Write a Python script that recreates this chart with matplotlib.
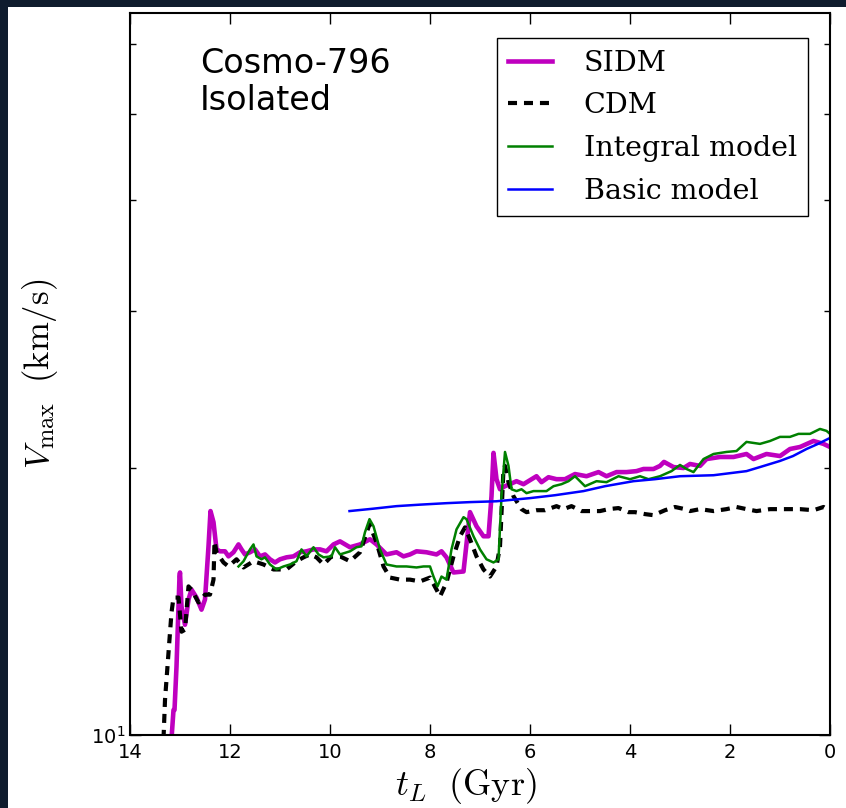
import numpy as np
import matplotlib
matplotlib.use("Agg")
import matplotlib.pyplot as plt
from matplotlib.patches import Rectangle
from matplotlib.ticker import NullFormatter, FixedLocator

plt.rcParams['lines.scale_dashes'] = False

# lookback time (Gyr) and Vmax (km/s)
t_sidm = [13.17, 13.13, 13.11, 13.07, 13.01, 13.00, 12.97, 12.90, 12.83, 12.77,
          12.67, 12.57, 12.50, 12.43, 12.39, 12.33, 12.27, 12.20, 12.10, 12.03,
          11.93, 11.83, 11.77, 11.70, 11.60, 11.50, 11.40, 11.30, 11.20, 11.10,
          11.00, 10.87, 10.73, 10.60, 10.47, 10.33, 10.20, 10.07, 9.93, 9.80,
          9.60, 9.40, 9.20, 9.07, 8.87, 8.67, 8.53, 8.40, 8.27, 8.07,
          7.87, 7.77, 7.67, 7.53, 7.33, 7.26, 7.20, 7.07, 6.93, 6.83,
          6.77, 6.73, 6.67, 6.60, 6.50, 6.40, 6.27, 6.13, 6.00, 5.87,
          5.77, 5.63, 5.47, 5.30, 5.10, 4.87, 4.63, 4.47, 4.27, 4.07,
          3.87, 3.73, 3.53, 3.40, 3.32, 3.13, 2.93, 2.80, 2.60, 2.47,
          2.20, 1.93, 1.67, 1.53, 1.27, 1.00, 0.80, 0.60, 0.33, 0.13, 0.00]
v_sidm = [9.9, 10.67, 10.67, 11.94, 15.08, 15.24, 13.95, 13.31, 14.21, 14.58,
          14.28, 13.84, 14.21, 16.31, 17.87, 17.36, 16.18, 16.10, 16.10, 15.89,
          16.06, 16.39, 16.18, 15.97, 16.06, 16.18, 15.89, 15.97, 15.77, 15.64,
          15.77, 15.85, 15.89, 16.06, 16.10, 16.18, 16.18, 16.10, 16.39, 16.52,
          16.27, 16.39, 16.61, 16.39, 15.97, 16.06, 15.89, 15.97, 16.10, 16.06,
          15.97, 16.10, 15.85, 15.24, 15.28, 16.61, 17.82, 17.18, 16.74, 16.74,
          18.57, 20.78, 19.41, 18.91, 19.06, 19.16, 19.31, 19.16, 19.36, 19.56,
          19.26, 19.51, 19.41, 19.41, 19.67, 19.56, 19.77, 19.56, 19.77, 19.77,
          19.82, 19.93, 19.93, 20.09, 20.30, 20.03, 19.98, 20.19, 20.09, 20.45,
          20.56, 20.56, 20.72, 20.45, 20.72, 20.61, 20.99, 21.10, 21.43, 21.27, 21.10]

t_cdm = [13.33, 13.30, 13.23, 13.17, 13.13, 13.03, 12.97, 12.90, 12.83, 12.77,
         12.63, 12.50, 12.40, 12.33, 12.31, 12.27, 12.13, 12.03, 11.87, 11.73,
         11.53, 11.33, 11.13, 10.87, 10.67, 10.53, 10.40, 10.27, 10.13, 9.97,
         9.80, 9.60, 9.40, 9.21, 9.07, 8.93, 8.80, 8.60, 8.40, 8.20,
         8.00, 7.87, 7.80, 7.67, 7.53, 7.40, 7.30, 7.20, 7.07, 6.93,
         6.80, 6.67, 6.60, 6.53, 6.50, 6.43, 6.33, 6.17, 6.07, 5.87,
         5.70, 5.47, 5.33, 5.17, 4.97, 4.80, 4.60, 4.43, 4.23, 4.03,
         3.90, 3.70, 3.53, 3.30, 3.10, 2.90, 2.80, 2.60, 2.33, 2.07,
         1.87, 1.67, 1.47, 1.20, 1.00, 0.80, 0.60, 0.33, 0.13, 0.00]
v_cdm = [9.9, 10.95, 12.38, 13.74, 14.28, 14.28, 13.07, 13.14, 14.70, 14.58,
         14.10, 14.39, 14.39, 14.96, 16.52, 16.06, 15.64, 15.48, 15.77, 15.44,
         15.69, 15.56, 15.36, 15.36, 15.69, 15.85, 15.97, 15.85, 15.56, 15.89,
         15.89, 15.69, 16.06, 17.27, 16.48, 15.48, 15.04, 14.96, 14.96, 14.89,
         15.04, 14.58, 14.32, 14.85, 15.89, 16.74, 17.13, 16.61, 15.89, 15.36,
         15.08, 15.48, 16.31, 19.93, 20.09, 19.26, 18.57, 17.96, 17.82, 17.91,
         17.91, 18.10, 17.96, 18.10, 17.87, 17.87, 17.87, 17.96, 18.01, 17.82,
         17.82, 17.73, 17.68, 17.91, 18.06, 17.96, 17.87, 17.96, 17.87, 17.96,
         18.06, 17.96, 17.87, 17.96, 17.96, 17.96, 17.96, 17.91, 18.06, 17.87]

t_integral = [11.83, 11.73, 11.60, 11.53, 11.47, 11.37, 11.30, 11.20, 11.07, 10.93,
              10.80, 10.67, 10.57, 10.47, 10.33, 10.23, 10.13, 9.97, 9.90, 9.80,
              9.60, 9.47, 9.37, 9.30, 9.21, 9.13, 9.00, 8.87, 8.67, 8.47,
              8.27, 8.13, 8.00, 7.93, 7.85, 7.77, 7.67, 7.57, 7.47, 7.33,
              7.27, 7.13, 7.00, 6.87, 6.73, 6.63, 6.57, 6.50, 6.43, 6.37,
              6.27, 6.17, 6.07, 5.93, 5.67, 5.53, 5.37, 5.23, 5.10, 4.90,
              4.67, 4.47, 4.23, 4.00, 3.80, 3.63, 3.40, 3.17, 3.00, 2.87,
              2.73, 2.53, 2.33, 2.07, 1.87, 1.67, 1.40, 1.20, 1.00, 0.80,
              0.63, 0.40, 0.20, 0.07, 0.00]
v_integral = [15.48, 15.69, 16.18, 16.39, 15.89, 15.77, 15.85, 15.56, 15.36, 15.48,
              15.56, 15.69, 16.18, 15.89, 16.27, 15.97, 15.85, 15.89, 16.27, 15.97,
              16.10, 16.27, 16.31, 16.92, 17.50, 17.18, 16.18, 15.56, 15.48, 15.48,
              15.44, 15.48, 15.48, 15.08, 14.70, 15.08, 14.96, 16.18, 17.04, 17.59,
              17.50, 16.74, 16.18, 15.77, 15.64, 15.77, 18.57, 20.83, 20.09, 18.91,
              18.82, 18.91, 18.72, 18.82, 18.82, 19.06, 19.16, 19.31, 19.56, 19.06,
              19.31, 19.26, 19.56, 19.41, 19.56, 19.41, 19.56, 19.82, 20.14, 19.93,
              19.77, 20.45, 20.72, 20.83, 20.88, 21.38, 21.27, 21.43, 21.66, 21.66,
              21.83, 21.83, 22.11, 22.00, 21.83]

t_basic = [9.61, 9.14, 8.67, 8.20, 7.67, 7.20, 6.67, 6.00, 5.50, 4.93,
           4.50, 3.93, 3.50, 3.00, 2.33, 1.67, 1.40, 1.00, 0.74, 0.47, 0.24, 0.00]
v_basic = [17.87, 17.98, 18.10, 18.17, 18.24, 18.29, 18.33, 18.48, 18.62, 18.82,
           19.06, 19.31, 19.41, 19.56, 19.61, 19.82, 20.03, 20.35, 20.61, 20.99, 21.27, 21.60]

W, H = 846, 808
fig = plt.figure(figsize=(W / 100, H / 100), dpi=100)
fig.patch.set_facecolor('#0f1c2e')
fig.add_artist(Rectangle((8 / W, 0), 1, 1 - 7 / H, transform=fig.transFigure,
                         facecolor='white', edgecolor='none', zorder=-1))

ax = fig.add_axes([130 / W, 1 - 735 / H, 700 / W, 722 / H])

ax.plot(t_sidm, v_sidm, color='m', lw=3.3, label='SIDM')
ax.plot(t_cdm, v_cdm, color='k', lw=3.0, linestyle=(0, (6.5, 5)), label='CDM')
ax.plot(t_integral, v_integral, color='g', lw=1.8, label='Integral model')
ax.plot(t_basic, v_basic, color='b', lw=1.8, label='Basic model')

ax.set_yscale('log')
ax.set_ylim(10, 65)
ax.set_xlim(14, 0)
ax.set_xticks([14, 12, 10, 8, 6, 4, 2, 0])
ax.yaxis.set_minor_locator(FixedLocator([20, 30, 40, 50, 60]))
ax.yaxis.set_minor_formatter(NullFormatter())

ax.tick_params(which='both', direction='in', top=True, right=True, width=1)
ax.tick_params(which='major', length=8, labelsize=14)
ax.tick_params(axis='x', pad=6)
ax.tick_params(which='minor', length=4)
for s in ax.spines.values():
    s.set_linewidth(1.5)

ax.set_xlabel(r'$t_L\ \ (\rm Gyr)$', fontsize=26, math_fontfamily='cm')
ax.xaxis.set_label_coords(0.48, -0.043, transform=ax.transAxes)
ax.xaxis.label.set_va('top')
ax.set_ylabel(r'$V_{\rm max}\;\ (\rm km/s)$', fontsize=25, math_fontfamily='cm')
ax.yaxis.set_label_coords(-0.1, 0.5, transform=ax.transAxes)

ax.text(0.1, 0.953, 'Cosmo-796\nIsolated', transform=ax.transAxes, fontsize=24,
        va='top', ha='left', linespacing=1.15)

leg = ax.legend(loc='upper right', bbox_to_anchor=(0.969, 0.965), borderaxespad=0,
                fancybox=False, framealpha=1, edgecolor='k',
                prop={'family': 'DejaVu Serif', 'size': 20.5},
                handlelength=1.55, handletextpad=1.1, labelspacing=0.55, borderpad=0.4)
leg.get_frame().set_linewidth(1.0)

fig.savefig('out.png', dpi=100, facecolor=fig.get_facecolor())
